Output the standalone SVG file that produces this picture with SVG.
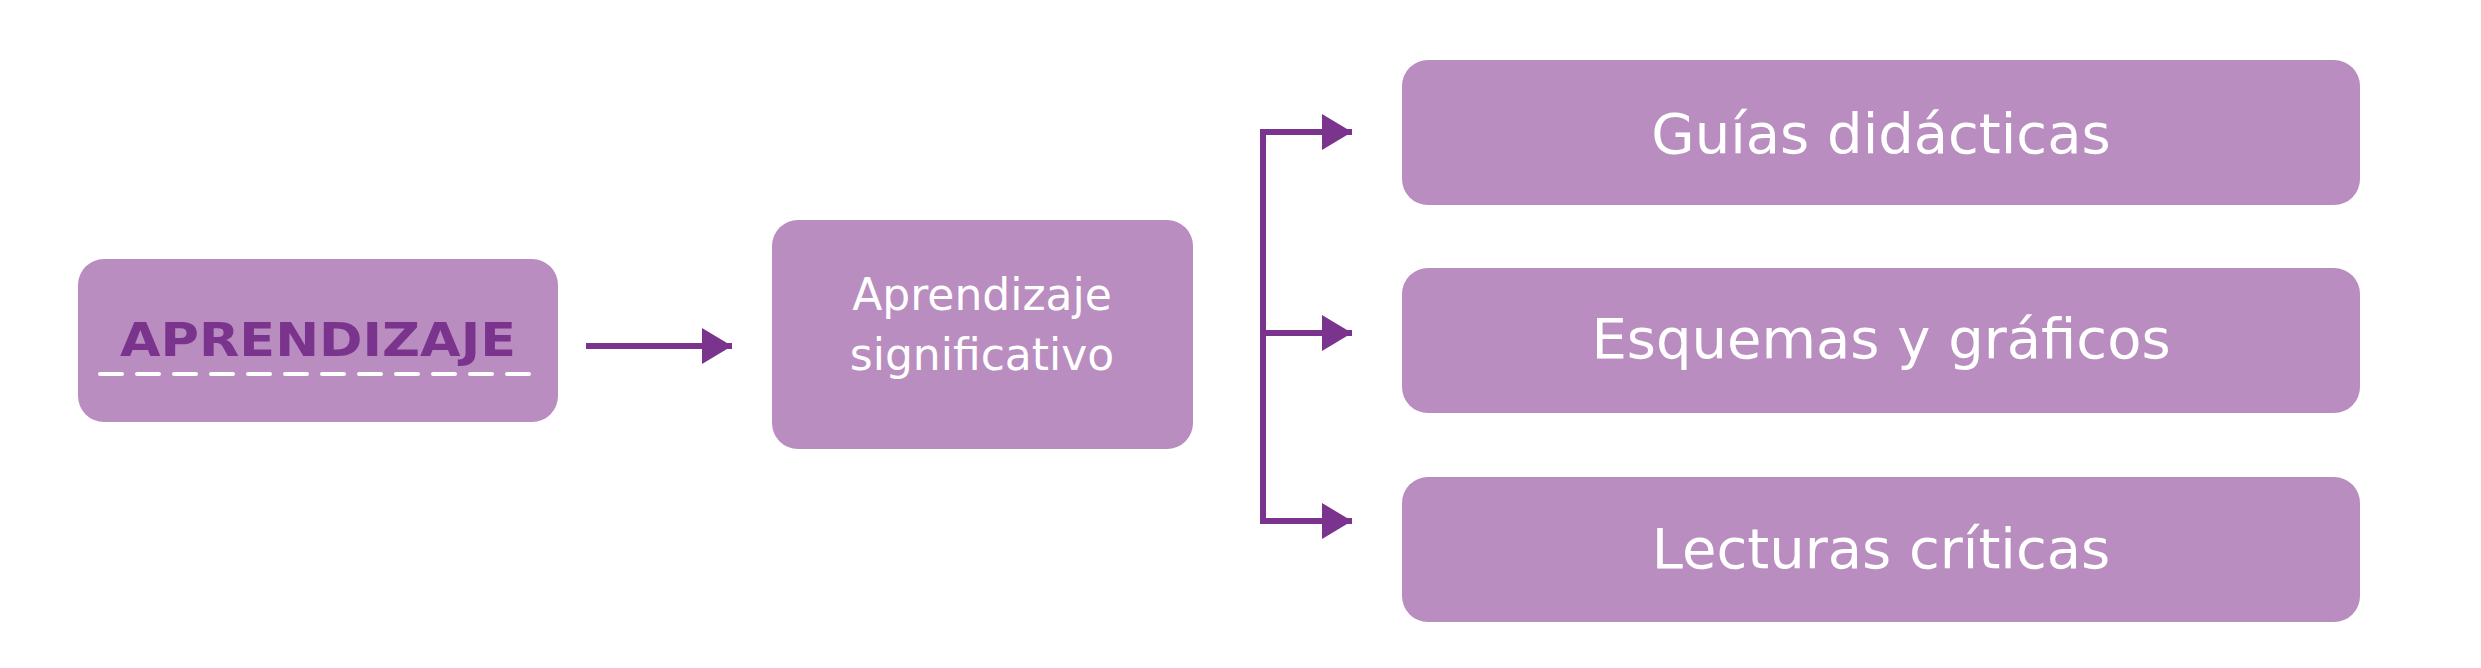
<svg xmlns="http://www.w3.org/2000/svg" width="2481" height="668" viewBox="0 0 2481 668">
<style>
.box{fill:#B98DBF}
.t{font-family:"DejaVu Sans",Verdana,sans-serif;fill:#fff;text-anchor:middle}
.c{stroke:#7A348E;stroke-width:6;fill:none}
</style>
<defs><marker id="a" markerWidth="6" markerHeight="6" refX="5" refY="3" orient="auto" markerUnits="strokeWidth"><path d="M0,0L5,3L0,6z" fill="#7A348E"/></marker></defs>
<rect width="2481" height="668" fill="#fff"/>
<g id="n1"><rect class="box" x="78" y="259" width="480" height="163" rx="26"/>
<text x="318" y="356" font-family="DejaVu Sans,sans-serif" font-weight="bold" font-size="46" fill="#7A348E" text-anchor="middle" textLength="396" lengthAdjust="spacingAndGlyphs">APRENDIZAJE</text>
<line x1="100" y1="374" x2="530" y2="374" stroke="#fff" stroke-width="4" stroke-dasharray="22,15" stroke-linecap="round"/></g>
<g id="n2"><rect class="box" x="772" y="220" width="421" height="229" rx="26"/>
<text class="t" font-size="44" x="982" y="310">Aprendizaje</text><text class="t" font-size="44" x="982" y="370">significativo</text></g>
<g id="n3"><rect class="box" x="1402" y="60" width="958" height="145" rx="26"/><text class="t" font-size="56" x="1881" y="153">Guías didácticas</text></g>
<g id="n4"><rect class="box" x="1402" y="268" width="958" height="145" rx="26"/><text class="t" font-size="56" x="1881" y="358">Esquemas y gráficos</text></g>
<g id="n5"><rect class="box" x="1402" y="477" width="958" height="145" rx="26"/><text class="t" font-size="56" x="1881" y="568">Lecturas críticas</text></g>
<g id="connectors">
<line class="c" x1="586" y1="346" x2="732" y2="346" marker-end="url(#a)"/>
<path class="c" d="M1263,129V524"/>
<line class="c" x1="1263" y1="132" x2="1352" y2="132" marker-end="url(#a)"/>
<line class="c" x1="1263" y1="333" x2="1352" y2="333" marker-end="url(#a)"/>
<line class="c" x1="1263" y1="521" x2="1352" y2="521" marker-end="url(#a)"/>
</g>
</svg>
